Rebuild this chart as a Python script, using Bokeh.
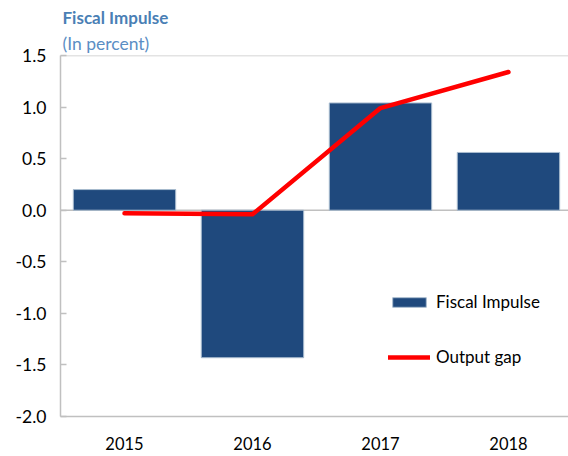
from bokeh.plotting import figure
from bokeh.models import Range1d, Span, Title, Legend, LegendItem, FixedTicker
from bokeh.embed import file_html
from bokeh.resources import INLINE

years = ["2015", "2016", "2017", "2018"]
fiscal_impulse = [0.20, -1.43, 1.04, 0.56]
output_gap = [-0.03, -0.04, 0.99, 1.34]
y_ticks = [-2.0, -1.5, -1.0, -0.5, 0.0, 0.5, 1.0, 1.5]
y_tick_labels = ["-2.0", "-1.5", "-1.0", "-0.5", "0.0", "0.5", "1.0", "1.5"]

FONT = "Lato"
xs = list(range(len(years)))

p = figure(width=568, height=456, output_backend="svg", toolbar_location=None,
           x_range=Range1d(-0.5, 3.469), y_range=Range1d(-2.0, 1.5),
           min_border_left=60, min_border_right=0, min_border_top=55, min_border_bottom=40)
p.title = None

sub = Title(text="(In percent)", text_font=FONT, text_font_size="17.5px",
            text_font_style="normal", text_color="#5b8ec4", offset=2, standoff=3)
main = Title(text="Fiscal Impulse", text_font=FONT, text_font_size="17px",
             text_font_style="bold", text_color="#4a7fb5", offset=2, standoff=3)
p.add_layout(sub, "above")
p.add_layout(main, "above")

p.outline_line_color = None
p.xgrid.visible = False
p.ygrid.visible = False

top_line = Span(location=1.5, dimension="width", line_color="#c8c8c8", line_width=1.5, level="underlay")
zero = Span(location=0, dimension="width", line_color="#c0c0c0", line_width=1.5, level="underlay")
p.add_layout(top_line)
p.add_layout(zero)

bars = p.vbar(x=xs, top=fiscal_impulse, width=0.8, fill_color="#1f497d",
              line_color="#a9bccf", line_width=1)
line = p.line(x=xs, y=output_gap, line_color="#ff0000", line_width=4.5,
              line_cap="round", line_join="round")

p.xaxis.ticker = FixedTicker(ticks=xs)
p.xaxis.major_label_overrides = {i: y for i, y in zip(xs, years)}
p.xaxis.major_tick_line_color = None
p.xaxis.minor_tick_line_color = None
p.xaxis.axis_line_color = "#c0c0c0"
p.xaxis.axis_line_width = 1.5
p.xaxis.major_label_standoff = 14
p.xaxis.major_label_text_font = FONT
p.xaxis.major_label_text_font_size = "16.5px"
p.xaxis.major_label_text_color = "#000000"

p.yaxis.ticker = FixedTicker(ticks=y_ticks)
p.yaxis.major_label_overrides = {t: l for t, l in zip(y_ticks, y_tick_labels)}
p.yaxis.major_tick_in = 6
p.yaxis.major_tick_out = 0
p.yaxis.major_tick_line_color = "#c0c0c0"
p.yaxis.major_tick_line_width = 1.5
p.yaxis.minor_tick_line_color = None
p.yaxis.axis_line_color = "#c0c0c0"
p.yaxis.axis_line_width = 1.5
p.yaxis.major_label_standoff = 14
p.yaxis.major_label_text_font = FONT
p.yaxis.major_label_text_font_size = "17.5px"
p.yaxis.major_label_text_color = "#000000"

legend = Legend(items=[LegendItem(label="Fiscal Impulse", renderers=[bars]),
                       LegendItem(label="Output gap", renderers=[line])],
                location=(328, 49), orientation="vertical",
                glyph_width=42, glyph_height=12, label_height=20, spacing=34,
                padding=0, margin=0, label_standoff=6,
                border_line_color=None, background_fill_alpha=0,
                label_text_font=FONT, label_text_font_size="17px", label_text_color="#000000")
p.add_layout(legend, "center")

open("out.html", "w").write(file_html(p, INLINE))
